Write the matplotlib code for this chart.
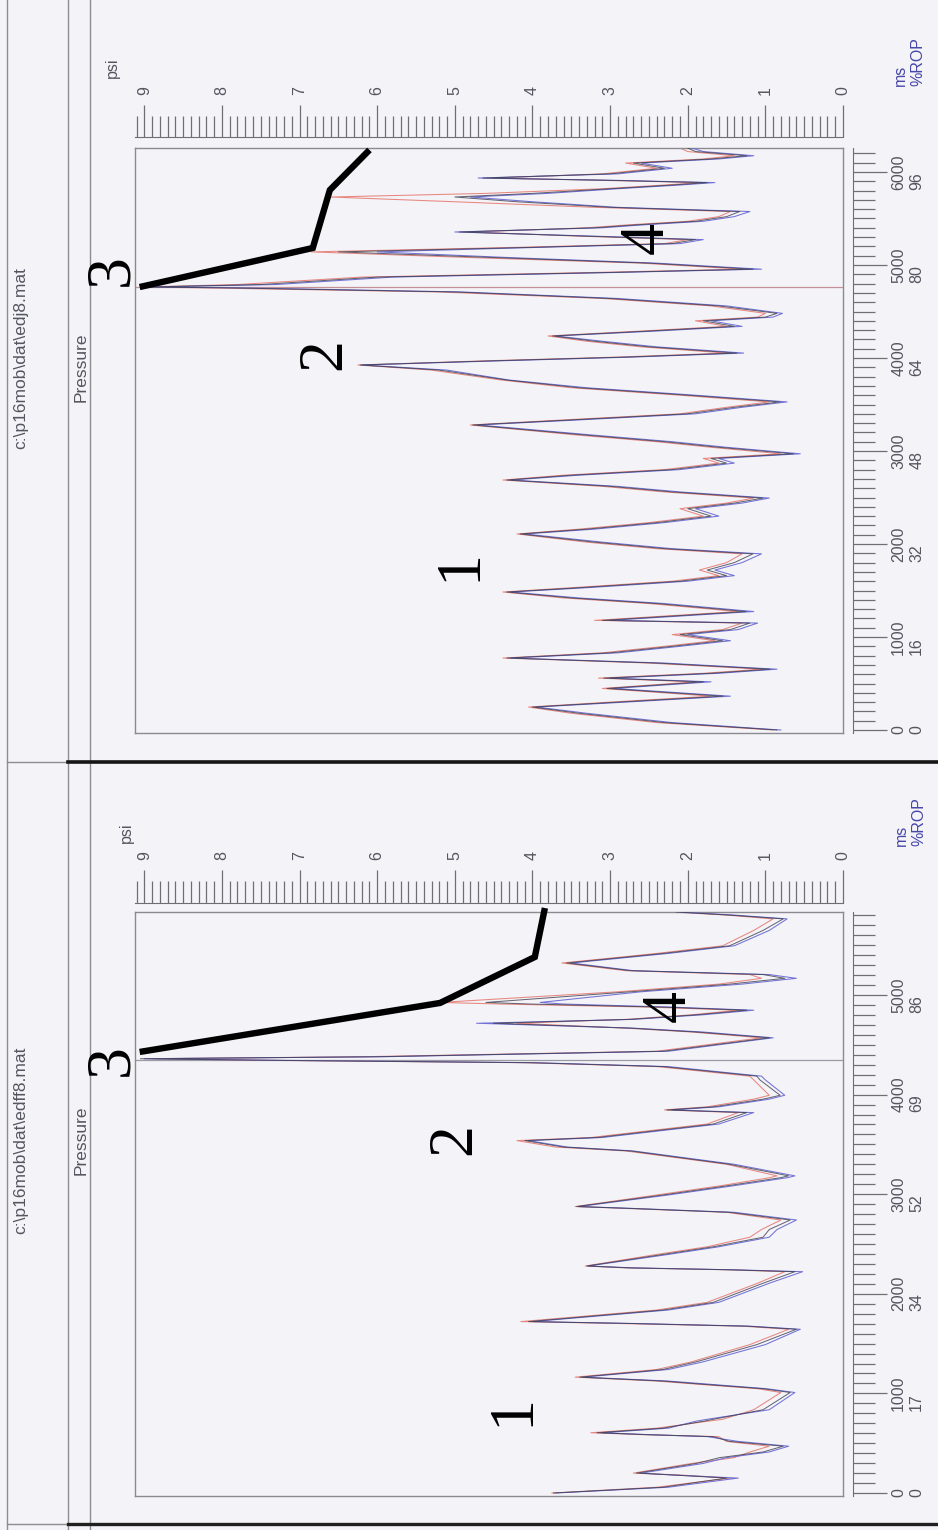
import matplotlib
matplotlib.use('Agg')
import matplotlib.pyplot as plt
from matplotlib.lines import Line2D
from matplotlib.ticker import FixedLocator

plt.rcParams['font.family'] = ['Liberation Sans', 'DejaVu Sans']

# ---------------- data ----------------
psi_ticks = [0, 1, 2, 3, 4, 5, 6, 7, 8, 9]
psi_labels = ['0', '1', '2', '3', '4', '5', '6', '7', '8', '9']

top_file = r"c:\p16mob\dat\edj8.mat"
bot_file = r"c:\p16mob\dat\edff8.mat"

top_ms = [0, 1000, 2000, 3000, 4000, 5000, 6000]
top_rop = ['0', '16', '32', '48', '64', '80', '96']
bot_ms = [0, 1000, 2000, 3000, 4000, 5000]
bot_rop = ['0', '17', '34', '52', '69', '86']

# top panel (edj8): time in ms, pressure in psi
t_top = [0, 80, 180, 247, 300, 364, 447, 518, 558, 610,
         654, 720, 774, 830, 900, 960, 1026, 1080, 1150, 1179,
         1274, 1360, 1420, 1484, 1530, 1600, 1660, 1720, 1800, 1894,
         1950, 2020, 2108, 2160, 2230, 2300, 2380, 2440, 2494, 2560,
         2620, 2688, 2740, 2800, 2870, 2920, 2970, 3040, 3100, 3170,
         3280, 3330, 3400, 3470, 3528, 3600, 3680, 3763, 3870, 3925,
         3970, 4010, 4053, 4120, 4180, 4237, 4290, 4340, 4400, 4440,
         4480, 4560, 4640, 4710, 4755, 4763, 4790, 4870, 4920, 4955,
         5020, 5080, 5141, 5190, 5230, 5273, 5310, 5355, 5400, 5430,
         5470, 5520, 5575, 5620, 5680, 5731, 5770, 5820, 5860, 5886,
         5910, 5935, 5980, 6040, 6096, 6140, 6175, 6220, 6258]
p_top_black = [0.85, 2.3, 3.4, 4.0, 2.9, 1.55, 3.04, 1.80, 3.08, 1.7,
               0.94, 2.4, 4.33, 3.0, 2.2, 1.55, 2.1, 1.45, 1.2, 3.1,
               1.25, 2.4, 3.5, 4.33, 3.4, 2.1, 1.5, 1.75, 1.4, 1.16,
               2.3, 3.2, 4.16, 3.3, 2.4, 1.7, 2.0, 1.4, 1.03, 2.2,
               3.0, 4.33, 3.5, 2.2, 1.5, 1.7, 0.64, 1.6, 2.3, 3.3,
               4.77, 3.6, 2.0, 1.4, 0.81, 2.0, 3.4, 4.33, 5.2, 6.22,
               4.5, 2.8, 1.37, 2.5, 3.2, 3.74, 2.5, 1.4, 1.8, 1.0,
               0.85, 1.6, 3.0, 5.0, 8.0, 9.0, 7.5, 6.0, 3.0, 1.16,
               2.5, 4.5, 6.5, 4.0, 2.2, 1.9, 3.3, 4.94, 3.2, 2.7,
               1.9, 1.5, 1.33, 3.0, 4.2, 5.0, 4.0, 3.0, 2.2, 1.75,
               3.0, 4.64, 3.0, 2.3, 2.7, 1.7, 1.24, 1.9, 2.0]
p_top_red = [0.9, 2.4, 3.5, 4.05, 3.0, 1.7, 3.1, 1.9, 3.15, 1.8,
             1.05, 2.5, 4.38, 3.1, 2.3, 1.65, 2.2, 1.55, 1.3, 3.2,
             1.35, 2.5, 3.6, 4.38, 3.5, 2.2, 1.6, 1.85, 1.5, 1.3,
             2.4, 3.3, 4.2, 3.4, 2.5, 1.8, 2.1, 1.5, 1.15, 2.3,
             3.1, 4.38, 3.6, 2.3, 1.6, 1.8, 0.8, 1.7, 2.4, 3.4,
             4.8, 3.7, 2.1, 1.5, 0.95, 2.1, 3.5, 4.4, 5.3, 6.25,
             4.6, 2.9, 1.5, 2.6, 3.3, 3.8, 2.6, 1.5, 1.9, 1.1,
             1.0, 1.7, 3.1, 5.2, 8.3, 9.05, 7.8, 6.2, 3.2, 1.3,
             2.6, 4.8, 6.85, 4.2, 2.3, 2.0, 3.4, 4.8, 3.3, 2.8,
             2.0, 1.6, 1.45, 3.2, 5.0, 6.6, 4.6, 3.1, 2.3, 1.85,
             3.1, 4.5, 3.1, 2.4, 2.8, 1.8, 1.4, 2.0, 2.1]
p_top_blue = [0.8, 2.2, 3.3, 3.95, 2.8, 1.45, 2.95, 1.7, 3.0, 1.6,
              0.85, 2.3, 4.28, 2.9, 2.1, 1.45, 2.0, 1.35, 1.1, 3.0,
              1.15, 2.3, 3.4, 4.28, 3.3, 2.0, 1.4, 1.65, 1.3, 1.05,
              2.2, 3.1, 4.1, 3.2, 2.3, 1.6, 1.9, 1.3, 0.95, 2.1,
              2.9, 4.28, 3.4, 2.1, 1.4, 1.6, 0.55, 1.5, 2.2, 3.2,
              4.7, 3.5, 1.9, 1.3, 0.72, 1.9, 3.3, 4.3, 5.1, 6.2,
              4.4, 2.7, 1.28, 2.4, 3.1, 3.7, 2.4, 1.3, 1.7, 0.9,
              0.78, 1.5, 2.9, 4.9, 7.8, 8.95, 7.3, 5.8, 2.9, 1.05,
              2.4, 4.3, 6.0, 3.9, 2.1, 1.8, 3.2, 5.0, 3.1, 2.6,
              1.8, 1.4, 1.2, 2.9, 4.0, 4.8, 3.8, 2.9, 2.1, 1.65,
              2.9, 4.7, 2.9, 2.2, 2.6, 1.6, 1.15, 1.8, 1.95]

# bottom panel (edff8)
t_bot = [0, 58, 150, 181, 200, 297, 355, 412, 470, 518,
         566, 586, 605, 651, 720, 740, 836, 1009, 1047, 1097,
         1124, 1163, 1240, 1317, 1490, 1644, 1675, 1702, 1721, 1837,
         1914, 2106, 2222, 2241, 2260, 2279, 2395, 2472, 2568, 2645,
         2741, 2818, 2857, 2876, 2992, 3088, 3165, 3184, 3300, 3434,
         3473, 3538, 3569, 3646, 3704, 3819, 3846, 3877, 3954, 3993,
         4147, 4185, 4281, 4320, 4345, 4360, 4380, 4435, 4570, 4628,
         4667, 4716, 4755, 4801, 4847, 4878, 4909, 4925, 5032, 5109,
         5167, 5205, 5244, 5321, 5417, 5494, 5648, 5764, 5802, 5833]
p_bot_black = [3.73, 2.32, 1.50, 2.19, 2.66, 1.89, 1.59, 1.03, 0.77, 1.46,
               1.67, 2.53, 3.17, 2.32, 1.80, 1.67, 1.03, 0.68, 1.03, 1.89,
               2.32, 3.39, 2.32, 1.89, 1.11, 0.60, 1.24, 2.74, 4.05, 2.32,
               1.67, 1.03, 0.62, 1.46, 2.74, 3.30, 2.32, 1.67, 1.03, 0.95,
               0.68, 1.46, 2.74, 3.43, 2.32, 1.46, 0.81, 0.70, 1.46, 2.74,
               3.60, 4.10, 3.17, 2.32, 1.67, 1.24, 2.27, 1.67, 1.03, 0.81,
               1.07, 1.11, 2.32, 4.03, 7.5, 9.05, 6.0, 2.32, 0.95, 1.89,
               2.74, 4.50, 2.74, 1.89, 1.24, 2.32, 4.03, 4.60, 2.74, 1.46,
               0.75, 1.03, 2.74, 3.56, 2.32, 1.46, 1.03, 0.77, 1.46, 2.15]
p_bot_red = [3.75, 2.40, 1.45, 2.10, 2.70, 1.95, 1.40, 1.20, 0.95, 1.50,
             1.60, 2.60, 3.25, 2.40, 1.75, 1.55, 1.15, 0.80, 1.10, 1.95,
             2.40, 3.45, 2.40, 1.95, 1.20, 0.70, 1.30, 2.90, 4.15, 2.40,
             1.75, 1.10, 0.75, 1.50, 2.80, 3.32, 2.40, 1.75, 1.20, 1.05,
             0.80, 1.50, 2.80, 3.45, 2.40, 1.55, 0.95, 0.85, 1.50, 2.80,
             3.70, 4.20, 3.25, 2.40, 1.75, 1.35, 2.30, 1.75, 1.15, 0.95,
             1.15, 1.20, 2.40, 4.10, 7.6, 8.9, 6.2, 2.40, 1.05, 1.95,
             2.80, 4.20, 2.80, 1.95, 1.35, 2.50, 4.40, 5.19, 2.90, 1.60,
             1.05, 1.20, 2.80, 3.62, 2.40, 1.55, 1.15, 0.90, 1.50, 2.20]
p_bot_blue = [3.70, 2.25, 1.35, 2.20, 2.60, 1.80, 1.50, 0.95, 0.70, 1.35,
              1.75, 2.50, 3.10, 2.25, 1.90, 1.75, 0.95, 0.62, 0.98, 1.80,
              2.25, 3.35, 2.25, 1.80, 1.00, 0.55, 1.20, 2.70, 4.00, 2.25,
              1.60, 0.95, 0.52, 1.40, 2.70, 3.28, 2.25, 1.60, 0.95, 0.85,
              0.60, 1.40, 2.70, 3.40, 2.25, 1.38, 0.72, 0.62, 1.40, 2.70,
              3.55, 4.05, 3.10, 2.25, 1.60, 1.15, 2.20, 1.60, 0.95, 0.75,
              1.00, 1.05, 2.25, 3.95, 7.4, 9.0, 5.9, 2.25, 0.90, 1.80,
              2.70, 4.72, 2.70, 1.80, 1.15, 2.20, 3.60, 3.90, 2.60, 1.30,
              0.60, 0.95, 2.70, 3.50, 2.25, 1.40, 0.95, 0.72, 1.40, 2.10]

top_cursor_t = 4763
bot_cursor_t = 4350

# hand-drawn annotation pointers (psi, ms)
top_arrow_p = [9.06, 6.83, 6.61, 6.10]
top_arrow_t = [4763, 5183, 5806, 6237]
bot_arrow_p = [9.06, 5.19, 3.97, 3.84]
bot_arrow_t = [4428, 4920, 5381, 5873]

# ---------------- layout ----------------
W, H = 938, 1530
fig = plt.figure(figsize=(W / 100, H / 100), dpi=100)
BG = '#f3f3f8'
fig.patch.set_facecolor(BG)
GRAY = '#555560'
EDGE = '#8a8a90'
PSI_MAX = 9.12


def fx(x):
    return x / W


def fy(y):
    return 1 - y / H


def add_ax(x0, y0, x1, y1):
    return fig.add_axes([fx(x0), fy(y1), (x1 - x0) / W, (y1 - y0) / H])


def fig_line(xs, ys, color, lw):
    fig.add_artist(Line2D([fx(x) for x in xs], [fy(y) for y in ys],
                          transform=fig.transFigure, color=color, lw=lw))


# frame / strip lines
for xv in (7, 68, 90):
    fig_line([xv, xv], [0, H], '#8c8c92', 1.0)
fig_line([7, 68], [762, 762], '#8c8c92', 1.0)
fig_line([68, W], [762, 762], '#151515', 2.6)
fig_line([7, 68], [1524, 1524], '#8c8c92', 1.0)
fig_line([68, W], [1524, 1524], '#202020', 2.4)


def panel(ytop, ybot, tmin, tmax, t, red, blue, black, cursor_t, cursor_col,
          ms, rop, tick_max, ruler_top, ruler_base, arrow_p, arrow_t):
    ax = add_ax(135, ytop, 843, ybot)
    ax.set_facecolor(BG)
    ax.set_xlim(PSI_MAX, 0)
    ax.set_ylim(tmin, tmax)
    ax.set_xticks([])
    ax.set_yticks([])
    for s in ax.spines.values():
        s.set_color(EDGE)
        s.set_linewidth(1.0)
    ax.axhline(cursor_t, color=cursor_col, lw=0.9, zorder=1)
    ax.plot(red, t, color='#e8877f', lw=0.75, zorder=2)
    ax.plot(blue, t, color='#7272d6', lw=0.75, zorder=3)
    ax.plot(black, t, color='#3c3c4c', lw=0.7, alpha=0.8, zorder=4)
    ax.plot(arrow_p, arrow_t, color='black', lw=4.6, clip_on=False,
            solid_joinstyle='miter', solid_capstyle='butt', zorder=10)

    # psi ruler above the plot
    rax = add_ax(135, ruler_top, 843, ruler_base)
    rax.patch.set_alpha(0)
    rax.set_xlim(PSI_MAX, 0)
    rax.set_ylim(0, 1)
    rax.set_yticks([])
    for k in ('top', 'left', 'right'):
        rax.spines[k].set_visible(False)
    rax.spines['bottom'].set_color('#6e6e74')
    rax.xaxis.set_major_locator(FixedLocator(psi_ticks))
    rax.xaxis.set_minor_locator(FixedLocator([i / 10 for i in range(0, 92)]))
    rax.set_xticklabels(psi_labels, rotation=90)
    rax.tick_params(axis='x', which='both', direction='in', bottom=True,
                    top=False, labelbottom=False, labeltop=True,
                    color='#6e6e74', width=0.9)
    rax.tick_params(axis='x', which='major', length=(ruler_base - ruler_top) * 0.72,
                    pad=7, labelsize=11.5, labelcolor=GRAY)
    rax.tick_params(axis='x', which='minor', length=(ruler_base - ruler_top) * 0.47)

    # time ruler to the right
    tax = add_ax(853, ytop, 887, ybot)
    tax.patch.set_alpha(0)
    tax.set_ylim(tmin, tmax)
    tax.set_xticks([])
    for k in ('top', 'bottom', 'right'):
        tax.spines[k].set_visible(False)
    tax.spines['left'].set_color('#6e6e74')
    tax.yaxis.set_major_locator(FixedLocator(ms))
    tax.yaxis.set_minor_locator(FixedLocator(list(range(0, tick_max + 1, 100))))
    tax.set_yticklabels([f"{m}\n{r}" for m, r in zip(ms, rop)], rotation=90,
                        va='center', ha='left', multialignment='left',
                        linespacing=1.25)
    tax.tick_params(axis='y', which='both', direction='in', left=True,
                    right=False, labelleft=False, labelright=True,
                    color='#6e6e74', width=0.9)
    tax.tick_params(axis='y', which='major', length=24.5, pad=3,
                    labelsize=11.5, labelcolor=GRAY)
    tax.tick_params(axis='y', which='minor', length=16)
    return ax


panel(148, 733, -32, 6258, t_top, p_top_red, p_top_blue, p_top_black,
      top_cursor_t, '#c49098', top_ms, top_rop, 6200, 105, 137,
      top_arrow_p, top_arrow_t)
panel(912, 1496, -30, 5833, t_bot, p_bot_red, p_bot_blue, p_bot_black,
      bot_cursor_t, '#9a9aa2', bot_ms, bot_rop, 5800, 870, 903,
      bot_arrow_p, bot_arrow_t)

# texts
fig.text(fx(21), fy(358), top_file, rotation=90, ha='center', va='center',
         fontsize=12.5, color=GRAY)
fig.text(fx(81), fy(367), 'Pressure', rotation=90, ha='center', va='center',
         fontsize=12.5, color=GRAY)
fig.text(fx(21), fy(1140), bot_file, rotation=90, ha='center', va='center',
         fontsize=12.5, color=GRAY)
fig.text(fx(81), fy(1140), 'Pressure', rotation=90, ha='center', va='center',
         fontsize=12.5, color=GRAY)

fig.text(fx(112), fy(68), 'psi', rotation=90, ha='center', va='center',
         fontsize=11.5, color=GRAY)
fig.text(fx(126), fy(833), 'psi', rotation=90, ha='center', va='center',
         fontsize=11.5, color=GRAY)
fig.text(fx(909), fy(62), 'ms\n%ROP', rotation=90, ha='center', va='center',
         multialignment='left', fontsize=11.5, color='#4646a8')
fig.text(fx(910), fy(822), 'ms\n%ROP', rotation=90, ha='center', va='center',
         multialignment='left', fontsize=11.5, color='#4646a8')

# big hand-written numbers
num_style = dict(rotation=90, ha='center', va='center', fontsize=46,
                 family=['Liberation Serif', 'DejaVu Serif'], color='black')
for (x, y, s) in [(112, 270, '3'), (325, 354, '2'), (460, 565, '1'), (648, 238, '4'),
                  (112, 1060, '3'), (455, 1139, '2'), (513, 1410, '1'), (670, 1006, '4')]:
    fig.text(fx(x), fy(y), s, **num_style)

fig.savefig('out.png', dpi=100, facecolor=BG)
